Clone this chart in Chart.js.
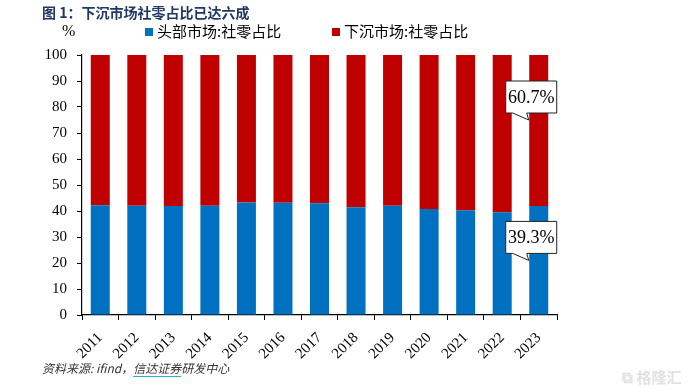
<!DOCTYPE html>
<html>
<head>
<meta charset="utf-8">
<script src="https://cdn.jsdelivr.net/npm/chart.js@4/dist/chart.umd.min.js"></script>
<style>
  html, body { margin:0; padding:0; background:#fff; }
  #wrap { position:relative; width:693px; height:389px; overflow:hidden; }
  #c { position:absolute; left:0; top:0; }
  .t { position:absolute; white-space:nowrap; }
  #title { left:42px; top:2px; font:bold 14px "Noto Sans CJK SC", sans-serif; color:#1f3864; }
  #pct { left:62px; top:22px; font:16px "Liberation Serif", serif; color:#000; }
  .lg { top:21px; font:15px "Noto Sans CJK SC", sans-serif; color:#000; line-height:20px; }
  .sw { display:inline-block; width:8px; height:8px; margin-right:4px; vertical-align:1px; }
  #foot { left:42px; top:359px; font:italic 12px "Noto Sans CJK SC", sans-serif; color:#333; }
  #foot .u { border-bottom:1.5px solid #1fb5d6; }
  #wm { left:622px; top:366px; font:bold 15px "Noto Sans CJK SC", sans-serif; color:#e2e2e2; }
</style>
</head>
<body>
<div id="wrap">
  <canvas id="c" width="693" height="389"></canvas>
  <div class="t" id="title">图 1：下沉市场社零占比已达六成</div>
  <div class="t" id="pct">%</div>
  <div class="t lg" id="lg1" style="left:145px"></div>
  <div class="t lg" id="lg2" style="left:332px"></div>
  <div class="t" id="foot">资料来源: ifind，<span class="u">信达证券</span>研发中心</div>
  <div class="t" id="wm">⧉ 格隆汇</div>
</div>
<script>
const years = ['2011','2012','2013','2014','2015','2016','2017','2018','2019','2020','2021','2022','2023'];
const headShare = [42.2, 42.0, 41.9, 42.0, 43.3, 43.2, 43.0, 41.4, 42.0, 40.8, 40.3, 39.5, 41.9];
const sinkShare = [57.8, 58.0, 58.1, 58.0, 56.7, 56.8, 57.0, 58.6, 58.0, 59.2, 59.7, 60.5, 58.1];
const seriesNames = ['头部市场:社零占比', '下沉市场:社零占比'];
const seriesColors = ['#0070C0', '#C00000'];
const yTicks = [0,10,20,30,40,50,60,70,80,90,100];
const calloutTexts = ['60.7%', '39.3%'];
const calloutIndex = [12, 12];
const calloutValues = [75, 21];

['lg1','lg2'].forEach((id,i)=>{
  document.getElementById(id).innerHTML =
    '<span class="sw" style="background:'+seriesColors[i]+'"></span>' + seriesNames[i];
});

const calloutPlugin = {
  id: 'callouts',
  afterDatasetsDraw(chart) {
    const ctx = chart.ctx, xs = chart.scales.x, ys = chart.scales.y;
    ctx.save();
    calloutTexts.forEach((txt, k) => {
      const tx = xs.getPixelForValue(calloutIndex[k]) - 10;
      const ty = ys.getPixelForValue(calloutValues[k]);
      const L = tx - 23, R = tx + 28, T = ty - 39, B = ty - 7;
      ctx.beginPath();
      ctx.moveTo(L, T); ctx.lineTo(R, T); ctx.lineTo(R, B);
      ctx.lineTo(tx - 2, B); ctx.lineTo(tx, ty); ctx.lineTo(tx - 16, B);
      ctx.lineTo(L, B); ctx.closePath();
      ctx.fillStyle = '#fff'; ctx.fill();
      ctx.strokeStyle = '#222'; ctx.lineWidth = 1; ctx.stroke();
      ctx.fillStyle = '#000';
      ctx.font = '18px "Liberation Serif", serif';
      ctx.textAlign = 'center'; ctx.textBaseline = 'middle';
      ctx.fillText(txt, (L + R) / 2, (T + B) / 2 + 1);
    });
    ctx.restore();
  }
};

new Chart(document.getElementById('c'), {
  type: 'bar',
  data: {
    labels: years,
    datasets: [
      { label: seriesNames[0], data: headShare, backgroundColor: seriesColors[0], borderWidth: 0, categoryPercentage: 1, barPercentage: 0.52 },
      { label: seriesNames[1], data: sinkShare, backgroundColor: seriesColors[1], borderWidth: 0, categoryPercentage: 1, barPercentage: 0.52 }
    ]
  },
  options: {
    responsive: false,
    animation: false,
    events: [],
    layout: { padding: { left: 42, top: 55, right: 136, bottom: 0 } },
    plugins: { legend: { display: false }, tooltip: { enabled: false } },
    scales: {
      x: {
        stacked: true,
        afterFit(s) { s.height = 74; },
        border: { display: true, color: '#000', width: 1.2 },
        grid: { display: true, drawOnChartArea: false, offset: true, tickLength: 5, color: '#000' },
        ticks: { minRotation: 45, maxRotation: 45, color: '#000', font: { family: 'Liberation Serif', size: 15 }, padding: 9 }
      },
      y: {
        stacked: true, min: 0, max: 100,
        afterFit(s) { s.width = 40; },
        afterBuildTicks(s) { s.ticks = yTicks.map(v => ({ value: v })); },
        border: { display: true, color: '#000', width: 1.2 },
        grid: { display: true, drawOnChartArea: false, tickLength: 5, color: '#000' },
        ticks: { color: '#000', font: { family: 'Liberation Serif', size: 15 }, padding: 10 }
      }
    }
  },
  plugins: [calloutPlugin]
});
</script>
</body>
</html>
